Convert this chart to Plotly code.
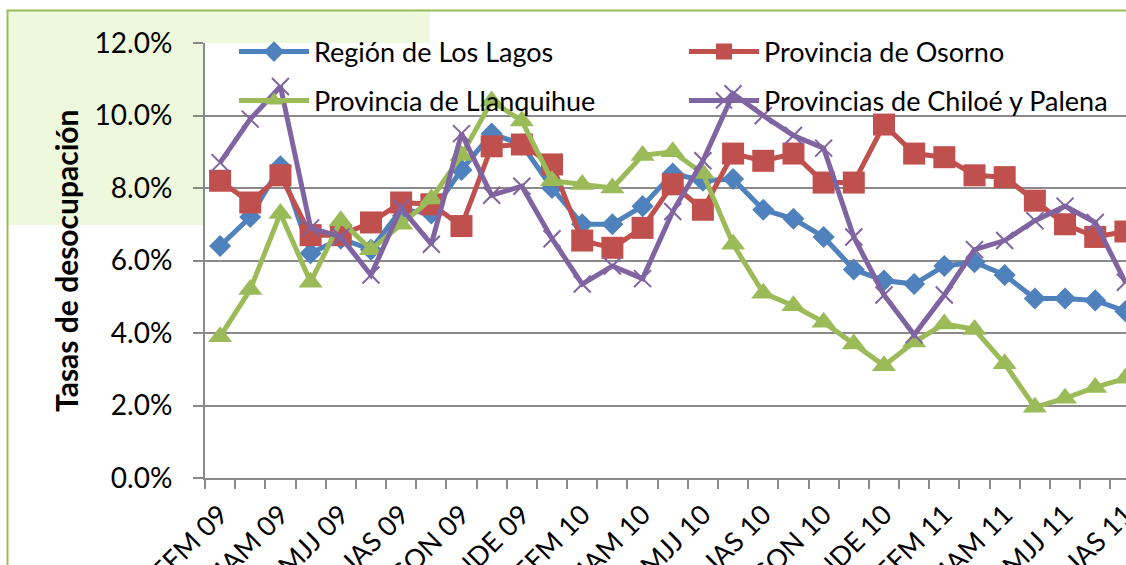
import plotly.graph_objects as go

categories = ["EFM 09", "FMA 09", "MAM 09", "AMJ 09", "MJJ 09", "JJA 09", "JAS 09", "ASO 09",
              "SON 09", "OND 09", "NDE 09", "DEF 10", "EFM 10", "FMA 10", "MAM 10", "AMJ 10",
              "MJJ 10", "JJA 10", "JAS 10", "ASO 10", "SON 10", "OND 10", "NDE 10", "DEF 11",
              "EFM 11", "FMA 11", "MAM 11", "AMJ 11", "MJJ 11", "JJA 11", "JAS 11"]

region_los_lagos = [6.4, 7.2, 8.6, 6.2, 6.6, 6.3, 7.4, 7.3, 8.5, 9.5, 9.2, 8.0, 7.0, 7.0, 7.5, 8.4,
                    8.2, 8.25, 7.4, 7.15, 6.65, 5.75, 5.45, 5.35, 5.85, 5.95, 5.6, 4.95, 4.95, 4.9, 4.6]
prov_osorno = [8.2, 7.6, 8.35, 6.7, 6.7, 7.05, 7.6, 7.55, 6.95, 9.15, 9.2, 8.65, 6.55, 6.35, 6.9, 8.1,
               7.4, 8.95, 8.75, 8.95, 8.15, 8.15, 9.75, 8.95, 8.85, 8.35, 8.3, 7.65, 7.0, 6.65, 6.8]
prov_llanquihue = [3.9, 5.2, 7.3, 5.4, 7.1, 6.3, 7.0, 7.7, 8.9, 10.4, 9.85, 8.2, 8.1, 8.0, 8.9, 9.0,
                   8.4, 6.45, 5.1, 4.75, 4.3, 3.7, 3.1, 3.75, 4.25, 4.1, 3.15, 1.95, 2.2, 2.5, 2.75]
prov_chiloe_palena = [8.7, 9.9, 10.8, 6.9, 6.65, 5.6, 7.45, 6.45, 9.5, 7.8, 8.05, 6.6, 5.35, 5.85, 5.5, 7.35,
                      8.75, 10.6, 10.0, 9.45, 9.1, 6.65, 5.05, 3.95, 5.05, 6.3, 6.55, 7.1, 7.5, 7.05, 5.4]

series_names = ["Región de Los Lagos", "Provincia de Osorno", "Provincia de Llanquihue",
                "Provincias de Chiloé y Palena"]
y_ticks = [0, 2, 4, 6, 8, 10, 12]
y_title = "Tasas de desocupación"

W, H = 1126, 565
L, R, T, B = 205, 0, 43, 87
PW, PH = W - L - R, H - T - B


def px(x):
    return (x - L) / PW


def py(y):
    return (H - B - y) / PH


FONT = "Lato"
GRAY = "#8A8A8A"
colors = ["#4F81BD", "#C0504D", "#9BBB59", "#8064A2"]
markers = [
    dict(symbol="diamond", size=17),
    dict(symbol="square", size=22),
    dict(symbol="triangle-up", size=21),
    dict(symbol="x-thin-open", size=17, line=dict(width=2, color=colors[3])),
]
legends = ["legend", "legend2", "legend3", "legend4"]
values = [region_los_lagos, prov_osorno, prov_llanquihue, prov_chiloe_palena]
xs = list(range(len(categories)))

fig = go.Figure()
for name, vals, col, mk, lg in zip(series_names, values, colors, markers, legends):
    fig.add_trace(go.Scatter(
        x=xs, y=vals, name=name, mode="lines+markers",
        line=dict(color=col, width=5),
        marker=dict(color=col, **mk),
        legend=lg, showlegend=True,
    ))

leg_common = dict(bgcolor="rgba(0,0,0,0)", borderwidth=0, itemwidth=70,
                  font=dict(family=FONT, size=27, color="#000000"),
                  xanchor="left", yanchor="middle")

fig.update_layout(
    width=W, height=H,
    margin=dict(l=L, r=R, t=T, b=B, autoexpand=False),
    paper_bgcolor="white", plot_bgcolor="white",
    font=dict(family=FONT, size=27, color="#000000"),
    legend=dict(x=px(234), y=py(52), **leg_common),
    legend2=dict(x=px(684), y=py(52), **leg_common),
    legend3=dict(x=px(234), y=py(101), **leg_common),
    legend4=dict(x=px(684), y=py(101), **leg_common),
    xaxis=dict(
        range=[-0.5, 30.02],
        tickmode="array", tickvals=xs[::2], ticktext=categories[::2],
        tickangle=-45, ticks="", showgrid=False, zeroline=False,
        showline=True, linecolor=GRAY, linewidth=2,
        tickfont=dict(family=FONT, size=27, color="#000000"),
        ticklabelstandoff=8,
        ticklabeloverflow="allow",
        automargin=False,
        minor=dict(tickmode="array", tickvals=[i - 0.5 for i in range(len(categories) + 1)],
                   ticks="outside", ticklen=9, tickwidth=2, tickcolor=GRAY, showgrid=False),
    ),
    yaxis=dict(
        range=[0, 12], tickmode="array", tickvals=y_ticks,
        ticktext=[f"{v:.1f}%" for v in y_ticks],
        ticks="outside", ticklen=10, tickwidth=2, tickcolor=GRAY,
        showgrid=True, gridcolor=GRAY, gridwidth=2, zeroline=False,
        showline=True, linecolor=GRAY, linewidth=2,
        tickfont=dict(family=FONT, size=28, color="#000000"),
        ticklabelstandoff=15,
        automargin=False,
    ),
    shapes=[
        dict(type="rect", xref="paper", yref="paper", x0=px(8), x1=px(205), y0=py(225), y1=py(11),
             fillcolor="#EDF8DC", line=dict(width=0), layer="below"),
        dict(type="rect", xref="paper", yref="paper", x0=px(205), x1=px(430), y0=py(43), y1=py(11),
             fillcolor="#EDF8DC", line=dict(width=0), layer="below"),
        dict(type="rect", xref="paper", yref="paper", x0=px(7.5), x1=px(1160), y0=py(600), y1=py(10.5),
             fillcolor="rgba(0,0,0,0)", line=dict(width=2, color="#9BBB59"), layer="above"),
    ],
    annotations=[
        dict(text=f"<b>{y_title}</b>", xref="paper", yref="paper", x=px(66), y=py(261),
             xanchor="center", yanchor="middle", textangle=-90, showarrow=False,
             font=dict(family=FONT, size=30, color="#000000")),
    ],
)

fig.write_html("out.html", config={"displayModeBar": False},
               post_script="document.body.style.margin='0px';")
